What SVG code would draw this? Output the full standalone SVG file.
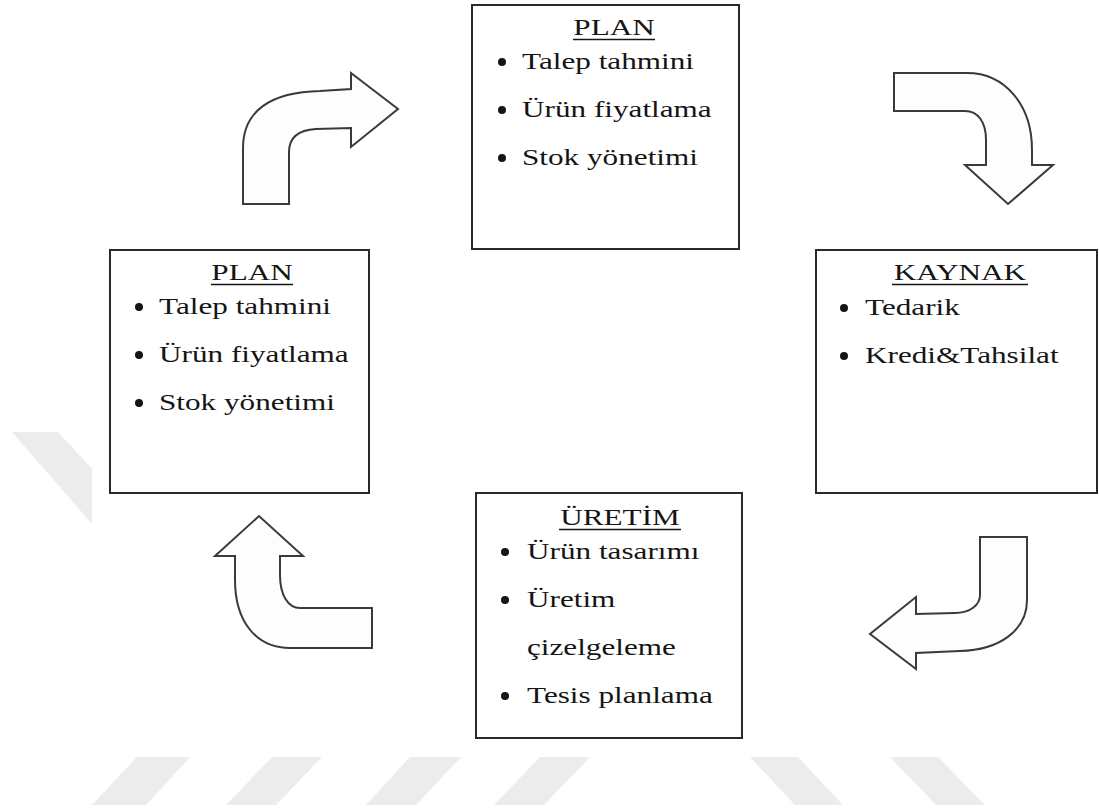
<svg xmlns="http://www.w3.org/2000/svg" width="1099" height="808" viewBox="0 0 1099 808">
<style>
.box{fill:#fff;stroke:#2a2a2a;stroke-width:2}
.arrow{fill:#fdfdfd;stroke:#3a3a3a;stroke-width:2;stroke-linejoin:miter}
.wm{fill:#ececec}
text{font-family:"Liberation Serif","Times New Roman",serif;font-size:24px;fill:#151515}
.h{text-anchor:middle}
.ul{stroke:#151515;stroke-width:1.4}
.bul{fill:#151515}
</style>
<rect width="1099" height="808" fill="#fff"/>
<g id="watermark">
<polygon class="wm" points="12,432 58,432 92,469 92,524"/>
<polygon class="wm" points="137,757 190,757 146,805 92,805"/>
<polygon class="wm" points="272,757 322,757 276,805 226,805"/>
<polygon class="wm" points="410,757 461,757 416,805 366,805"/>
<polygon class="wm" points="540,757 590,757 544,805 494,805"/>
<polygon class="wm" points="750,757 798,757 843,805 795,805"/>
<polygon class="wm" points="890,757 938,757 985,805 936,805"/>
</g>
<g id="connectors">
<path class="arrow" d="M243,204 L243,148 C243,110 272,92 320,91 L351,89 L351,73 L398,109 L351,147 L351,128 L316,129 C299,130 289,137 289,152 L289,204 Z"/>
<path class="arrow" d="M894,73 L967,73 C1005,73 1032,105 1032,150 L1032,165 L1053,165 L1008,204 L965,165 L986,165 L986,140 C986,122 978,111 965,111 L894,111 Z"/>
<path class="arrow" d="M980,537 L1027,537 L1027,600 C1027,630 1000,650 960,651 L916,653 L916,669 L870,634 L916,597 L916,614 L955,613 C970,613 980,605 980,595 Z"/>
<path class="arrow" d="M372,608 L300,608 C288,608 280,595 280,575 L280,556 L303,556 L259,516 L215,556 L235,556 L235,580 C235,620 255,648 290,648 L372,648 Z"/>
</g>
<g id="plan-top">
<rect class="box" x="472" y="5" width="267" height="244"/>
<text class="h" transform="translate(614 35) scale(1.3 1)">PLAN</text>
<line class="ul" x1="573" y1="39.5" x2="655" y2="39.5"/>
<circle class="bul" cx="502" cy="62" r="4"/>
<text transform="translate(522 69) scale(1.3 1)">Talep tahmini</text>
<circle class="bul" cx="502" cy="110" r="4"/>
<text transform="translate(522 117) scale(1.3 1)">Ürün fiyatlama</text>
<circle class="bul" cx="502" cy="158" r="4"/>
<text transform="translate(522 165) scale(1.3 1)">Stok yönetimi</text>
</g>
<g id="plan-left">
<rect class="box" x="110" y="250" width="259" height="243"/>
<text class="h" transform="translate(252 280) scale(1.3 1)">PLAN</text>
<line class="ul" x1="211" y1="284.5" x2="293" y2="284.5"/>
<circle class="bul" cx="139" cy="307" r="4"/>
<text transform="translate(159 314) scale(1.3 1)">Talep tahmini</text>
<circle class="bul" cx="139" cy="355" r="4"/>
<text transform="translate(159 362) scale(1.3 1)">Ürün fiyatlama</text>
<circle class="bul" cx="139" cy="403" r="4"/>
<text transform="translate(159 410) scale(1.3 1)">Stok yönetimi</text>
</g>
<g id="kaynak">
<rect class="box" x="816" y="250" width="281" height="243"/>
<text class="h" transform="translate(960 280) scale(1.3 1)">KAYNAK</text>
<line class="ul" x1="892" y1="284.5" x2="1028" y2="284.5"/>
<circle class="bul" cx="844" cy="308" r="4"/>
<text transform="translate(865 315) scale(1.3 1)">Tedarik</text>
<circle class="bul" cx="844" cy="356" r="4"/>
<text transform="translate(865 363) scale(1.3 1)">Kredi&amp;Tahsilat</text>
</g>
<g id="uretim">
<rect class="box" x="476" y="493" width="266" height="245"/>
<text class="h" transform="translate(620 525) scale(1.3 1)">ÜRETİM</text>
<line class="ul" x1="559" y1="529.5" x2="681" y2="529.5"/>
<circle class="bul" cx="505" cy="552" r="4"/>
<text transform="translate(527 559) scale(1.3 1)">Ürün tasarımı</text>
<circle class="bul" cx="505" cy="600" r="4"/>
<text transform="translate(527 607) scale(1.3 1)">Üretim</text>
<text transform="translate(527 655) scale(1.3 1)">çizelgeleme</text>
<circle class="bul" cx="505" cy="696" r="4"/>
<text transform="translate(527 703) scale(1.3 1)">Tesis planlama</text>
</g>
</svg>
